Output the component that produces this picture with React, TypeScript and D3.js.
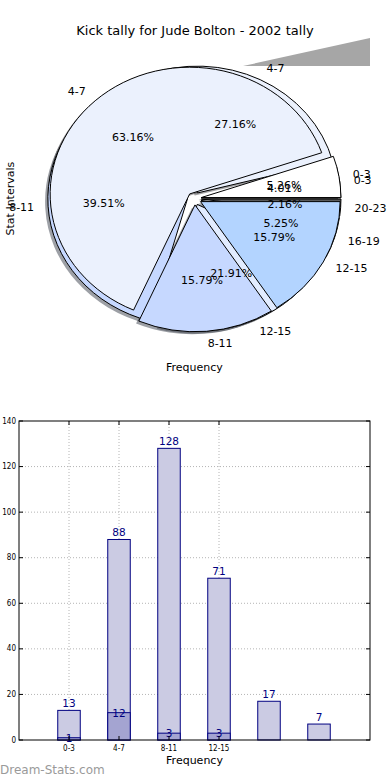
import * as d3 from "d3";

// pie + bar data
const categories = ["0-3", "4-7", "8-11", "12-15", "16-19", "20-23"];
const seriesA = [13, 88, 128, 71, 17, 7];
const seriesB = [1, 12, 3, 3];
const xTickLabels = ["0-3", "4-7", "8-11", "12-15"];
const yTickValues = [0, 20, 40, 60, 80, 100, 120, 140];

const colorsA = ["#ffffff", "#ebf1fd", "#c6d8ff", "#e2ecff", "#9fc5ff", "#5a5a5a"];
const colorsB = ["#ffffff", "#ebf1fd", "#c6d8ff", "#b3d4ff"];

const font = "DejaVu Sans, sans-serif";
const W = 390;

// pie geometry (matplotlib style, unequal aspect -> ellipse)
const cx = 194.4;
const cy = 198.6;
const sx = 139.6;
const sy = 126.8;
const explode = 0.05;
const labelDist = 1.1;
const pctDist = 0.6;

type Wedge = { label: string; value: number; t1: number; t2: number; color: string; pct: string };

function layout(values: number[], labels: string[], colors: string[]): Wedge[] {
  const total = d3.sum(values);
  // start at 3 o'clock, counter-clockwise
  const pie = d3.pie<number>().sort(null).startAngle(0).endAngle(2 * Math.PI);
  return pie(values).map((p, i) => ({
    label: labels[i],
    value: values[i],
    t1: p.startAngle,
    t2: p.endAngle,
    color: colors[i],
    pct: ((values[i] / total) * 100).toFixed(2) + "%",
  }));
}

const arc = d3.arc<{ t1: number; t2: number }>()
  .innerRadius(0)
  .outerRadius(1)
  .startAngle((d) => Math.PI / 2 - d.t2)
  .endAngle((d) => Math.PI / 2 - d.t1);

function mid(w: Wedge) {
  return (w.t1 + w.t2) / 2;
}

function darken(c: string) {
  const r = d3.rgb(c);
  return d3.rgb(r.r * 0.3, r.g * 0.3, r.b * 0.3).toString();
}

function PieChart() {
  const wedgesA = layout(seriesA, categories, colorsA);
  const wedgesB = layout(seriesB, categories.slice(0, seriesB.length), colorsB);
  const all = [...wedgesA, ...wedgesB];

  const off = (w: Wedge) => {
    const m = mid(w);
    return [explode * Math.cos(m), -explode * Math.sin(m)];
  };

  const labelPos = (w: Wedge, dist: number) => {
    const m = mid(w);
    return [cx + (dist + explode) * sx * Math.cos(m), cy - (dist + explode) * sy * Math.sin(m)];
  };

  return (
    <g>
      <text x={W / 2} y={30} textAnchor="middle" dominantBaseline="central" fontSize={13} fontFamily={font}>
        Kick tally for Jude Bolton - 2002 tally
      </text>
      <polygon points="243,66 370,38 370,66" fill="#a6a6a6" />
      <g transform={`translate(${cx},${cy}) scale(${sx},${sy})`}>
        {all.map((w, i) => {
          const [ex, ey] = off(w);
          return (
            <path
              key={"s" + i}
              d={arc(w) as string}
              transform={`translate(${ex - 0.02},${ey + 0.02})`}
              fill={darken(w.color)}
              fillOpacity={0.5}
            />
          );
        })}
        {all.map((w, i) => {
          const [ex, ey] = off(w);
          return (
            <path
              key={"w" + i}
              d={arc(w) as string}
              transform={`translate(${ex},${ey})`}
              fill={w.color}
              stroke="#000"
              strokeWidth={1}
              vectorEffect="non-scaling-stroke"
              strokeLinejoin="round"
            />
          );
        })}
      </g>
      {all.map((w, i) => {
        const [x, y] = labelPos(w, labelDist);
        return (
          <text
            key={"l" + i}
            x={x}
            y={y}
            textAnchor={Math.cos(mid(w)) > 0 ? "start" : "end"}
            dominantBaseline="central"
            fontSize={11}
            fontFamily={font}
          >
            {w.label}
          </text>
        );
      })}
      {all.map((w, i) => {
        const [x, y] = labelPos(w, pctDist);
        return (
          <text key={"p" + i} x={x} y={y} textAnchor="middle" dominantBaseline="central" fontSize={11} fontFamily={font}>
            {w.pct}
          </text>
        );
      })}
      <text
        transform={`translate(10,${cy}) rotate(-90)`}
        textAnchor="middle"
        dominantBaseline="central"
        fontSize={11}
        fontFamily={font}
      >
        Stat Intervals
      </text>
      <text x={cx} y={367} textAnchor="middle" dominantBaseline="central" fontSize={11} fontFamily={font}>
        Frequency
      </text>
    </g>
  );
}

function BarChart() {
  const left = 19;
  const right = 370;
  const top = 421;
  const bottom = 740;
  const x = d3.scaleLinear().domain([-1, 6.02]).range([left, right]);
  const y = d3.scaleLinear().domain([0, 140]).range([bottom, top]);
  const bw = x(0.45) - x(0);
  const navy = "#000080";
  const small = "DejaVu Sans Condensed, DejaVu Sans, sans-serif";

  return (
    <g>
      {yTickValues.slice(1, -1).map((v) => (
        <line key={"gy" + v} x1={left} x2={right} y1={y(v)} y2={y(v)} stroke="#b4b4b4" strokeDasharray="1,2" />
      ))}
      {xTickLabels.map((_, i) => (
        <line key={"gx" + i} x1={x(i)} x2={x(i)} y1={top} y2={bottom} stroke="#b4b4b4" strokeDasharray="1,2" />
      ))}
      {seriesA.map((v, i) => (
        <rect
          key={"a" + i}
          x={x(i) - bw / 2}
          y={y(v)}
          width={bw}
          height={y(0) - y(v)}
          fill="#cbcbe3"
          stroke={navy}
          strokeWidth={1}
        />
      ))}
      {seriesB.map((v, i) => (
        <rect
          key={"b" + i}
          x={x(i) - bw / 2}
          y={y(v)}
          width={bw}
          height={y(0) - y(v)}
          fill="#a4a4d1"
          stroke={navy}
          strokeWidth={1}
        />
      ))}
      {seriesA.map((v, i) => (
        <text key={"ta" + i} x={x(i)} y={y(v) - 3} textAnchor="middle" fontSize={10.5} fill={navy} fontFamily={font}>
          {v}
        </text>
      ))}
      {seriesB.map((v, i) => (
        <text
          key={"tb" + i}
          x={x(i)}
          y={y(v)}
          textAnchor="middle"
          dominantBaseline="central"
          fontSize={10.5}
          fill={navy}
          fontFamily={font}
        >
          {v}
        </text>
      ))}
      <rect x={left} y={top} width={right - left} height={bottom - top} fill="none" stroke="#000" strokeWidth={1} />
      {yTickValues.map((v) => (
        <g key={"ty" + v}>
          <line x1={left} x2={left + 4} y1={y(v)} y2={y(v)} stroke="#000" />
          <line x1={right - 4} x2={right} y1={y(v)} y2={y(v)} stroke="#000" />
          <text x={16} y={y(v)} textAnchor="end" dominantBaseline="central" fontSize={8} fontFamily={small}>
            {v}
          </text>
        </g>
      ))}
      {xTickLabels.map((t, i) => (
        <g key={"tx" + i}>
          <line x1={x(i)} x2={x(i)} y1={bottom} y2={bottom - 4} stroke="#000" />
          <line x1={x(i)} x2={x(i)} y1={top} y2={top + 4} stroke="#000" />
          <text x={x(i)} y={748} textAnchor="middle" dominantBaseline="central" fontSize={8} fontFamily={small}>
            {t}
          </text>
        </g>
      ))}
      <text x={(left + right) / 2} y={760} textAnchor="middle" dominantBaseline="central" fontSize={11} fontFamily={font}>
        Frequency
      </text>
      <text x={0} y={770} dominantBaseline="central" fontSize={12} fill="#9a9a9a" fontFamily={font}>
        Dream-Stats.com
      </text>
    </g>
  );
}

export default function App() {
  return (
    <svg
      width={390}
      height={780}
      style={{ position: "absolute", left: 0, top: 0, background: "#fff" }}
    >
      <PieChart />
      <BarChart />
    </svg>
  );
}
